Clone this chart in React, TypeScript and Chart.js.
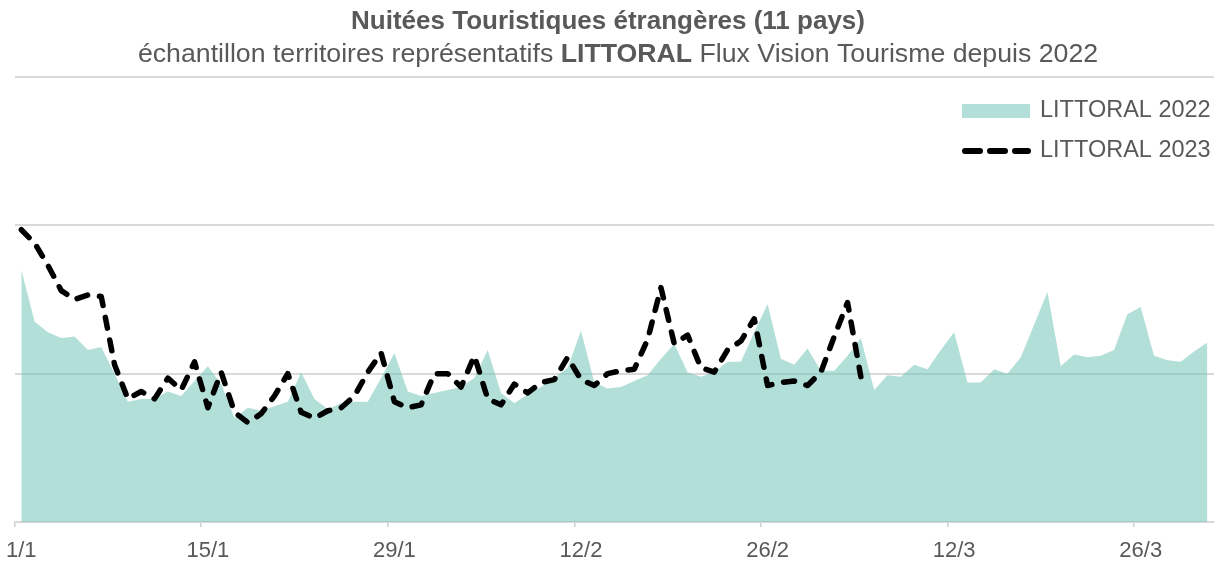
import React, { useEffect, useRef } from "react";
import { Chart, registerables } from "chart.js";

Chart.register(...registerables);

const FONT = "'Liberation Sans', Arial, sans-serif";
const TEXT_COLOR = "#595959";
const GRID_COLOR = "#d9d9d9";
const AREA_COLOR = "rgba(115,197,184,0.55)";
const AREA_LEGEND_COLOR = "#b2dfd8";

const TITLE = "Nuitées Touristiques étrangères (11 pays)";
const SUBTITLE_PARTS = [
  { text: "échantillon territoires représentatifs ", bold: false },
  { text: "LITTORAL", bold: true },
  { text: " Flux Vision Tourisme depuis 2022", bold: false },
];

const MONTH_DAYS = [31, 28, 31];
const CATEGORIES: string[] = [];
MONTH_DAYS.forEach((n, m) => {
  for (let d = 1; d <= n; d++) CATEGORIES.push(`${d}/${m + 1}`);
});
const TICK_LABELS = ["1/1", "15/1", "29/1", "12/2", "26/2", "12/3", "26/3"];

const SERIES_NAMES = ["LITTORAL 2022", "LITTORAL 2023"];

const LITTORAL_2022 = [
  170, 135, 128, 124, 125, 116, 118, 100, 81, 83,
  83, 88, 85, 95, 105, 93, 70, 77, 75, 78,
  81, 101, 83, 76, 80, 81, 81, 97, 114, 88,
  85, 87, 89, 91, 97, 116, 87, 80, 86, 91,
  97, 104, 129, 94, 90, 91, 95, 99, 110, 120,
  101, 98, 101, 108, 108, 128, 147, 110, 106, 117,
  102, 102, 112, 124, 89, 99, 98, 106, 103, 116,
  128, 94, 94, 103, 100, 111, 133, 155, 105, 113,
  111, 112, 116, 140, 145, 112, 109, 108, 115, 121,
];

const LITTORAL_2023 = [
  197, 188, 173, 156, 150, 153, 152, 106, 83, 88,
  83, 97, 89, 108, 77, 101, 74, 67, 73, 85,
  100, 74, 70, 75, 77, 85, 101, 114, 81, 77,
  79, 100, 100, 91, 112, 83, 79, 93, 87, 94,
  96, 111, 96, 92, 100, 102, 103, 123, 158, 120,
  126, 104, 101, 116, 122, 137, 92, 94, 95, 92,
  101, 125, 148, 98,
];

const Y_MIN = 0;
const Y_MAX = 300;
const Y_STEP = 100;

const titlesPlugin = {
  id: "titles",
  afterDraw(chart: any) {
    const ctx = chart.ctx as CanvasRenderingContext2D;
    const cx = chart.width / 2;
    ctx.save();
    ctx.fillStyle = TEXT_COLOR;
    ctx.textBaseline = "alphabetic";
    ctx.textAlign = "center";
    ctx.font = `bold 26px ${FONT}`;
    ctx.fillText(TITLE, cx, 29);
    ctx.textAlign = "left";
    const widths = SUBTITLE_PARTS.map((p) => {
      ctx.font = `${p.bold ? "bold " : ""}26.7px ${FONT}`;
      return ctx.measureText(p.text).width;
    });
    const total = widths.reduce((a, b) => a + b, 0);
    let x = cx + 10 - total / 2;
    SUBTITLE_PARTS.forEach((p, i) => {
      ctx.font = `${p.bold ? "bold " : ""}26.7px ${FONT}`;
      ctx.fillText(p.text, x, 62);
      x += widths[i];
    });
    ctx.restore();
  },
};

const legendPlugin = {
  id: "customLegend",
  afterDraw(chart: any) {
    const ctx = chart.ctx as CanvasRenderingContext2D;
    const x0 = 962;
    const textX = 1040;
    ctx.save();
    ctx.fillStyle = AREA_LEGEND_COLOR;
    ctx.fillRect(x0, 104, 68, 14);
    ctx.strokeStyle = "#000000";
    ctx.lineWidth = 6;
    ctx.lineCap = "round";
    ctx.setLineDash([15, 10]);
    ctx.beginPath();
    ctx.moveTo(x0 + 3, 151);
    ctx.lineTo(x0 + 66, 151);
    ctx.stroke();
    ctx.setLineDash([]);
    ctx.fillStyle = TEXT_COLOR;
    ctx.font = `23.5px ${FONT}`;
    ctx.textBaseline = "middle";
    ctx.textAlign = "left";
    ctx.fillText(SERIES_NAMES[0], textX, 111);
    ctx.fillText(SERIES_NAMES[1], textX, 151);
    ctx.restore();
  },
};

export default function App() {
  const canvasRef = useRef<HTMLCanvasElement | null>(null);

  useEffect(() => {
    document.body.style.margin = "0";
    const canvas = canvasRef.current;
    if (!canvas) return;
    const chart = new Chart(canvas, {
      type: "line",
      data: {
        labels: CATEGORIES,
        datasets: [
          {
            label: SERIES_NAMES[0],
            data: LITTORAL_2022,
            fill: "origin",
            backgroundColor: AREA_COLOR,
            borderWidth: 0,
            borderColor: "rgba(0,0,0,0)",
            pointRadius: 0,
            tension: 0,
            order: 2,
          },
          {
            label: SERIES_NAMES[1],
            data: LITTORAL_2023,
            fill: false,
            borderColor: "#000000",
            borderWidth: 5.5,
            borderDash: [11, 12],
            borderCapStyle: "round",
            borderJoinStyle: "round",
            pointRadius: 0,
            tension: 0,
            order: 1,
          },
        ],
      },
      options: {
        animation: false,
        responsive: false,
        maintainAspectRatio: false,
        layout: { padding: { top: 77, left: 0, right: 2, bottom: -13 } },
        plugins: {
          legend: { display: false },
          title: { display: false },
          tooltip: { enabled: false },
        },
        scales: {
          x: {
            type: "category",
            offset: true,
            grid: {
              offset: true,
              drawOnChartArea: false,
              tickLength: 5,
              color: (c: any) => (c.index % 14 === 0 ? "#cfcfcf" : "rgba(0,0,0,0)"),
              lineWidth: 1.5,
            },
            border: { display: true, color: GRID_COLOR, width: 1.5 },
            ticks: {
              autoSkip: false,
              maxRotation: 0,
              minRotation: 0,
              padding: 6,
              color: TEXT_COLOR,
              font: { family: FONT, size: 22, lineHeight: 1.636 },
              callback: (_v: any, i: number) =>
                TICK_LABELS.includes(CATEGORIES[i]) && i % 14 === 0 ? CATEGORIES[i] : "",
            },
          },
          y: {
            min: Y_MIN,
            max: Y_MAX,
            ticks: { display: false, stepSize: Y_STEP },
            grid: { color: GRID_COLOR, lineWidth: 2, drawTicks: false },
            border: { display: false },
          },
        },
      },
      plugins: [titlesPlugin, legendPlugin],
    });
    return () => chart.destroy();
  }, []);

  return (
    <div style={{ width: 1216, height: 562 }}>
      <canvas ref={canvasRef} width={1216} height={562} style={{ display: "block" }} />
    </div>
  );
}
